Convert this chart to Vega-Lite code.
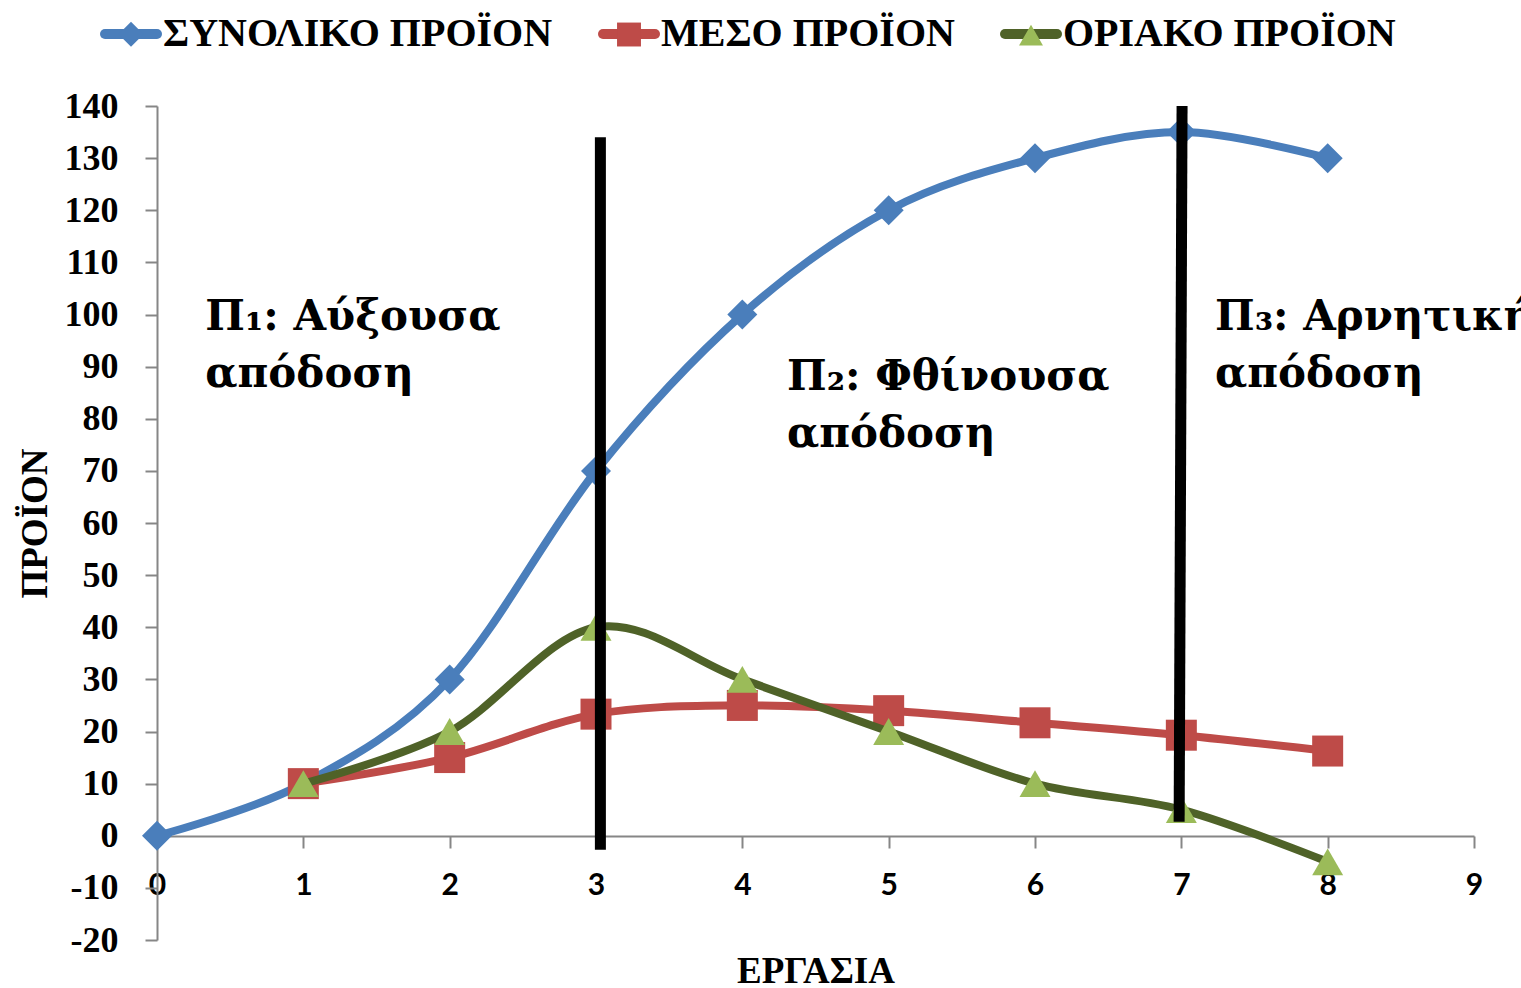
{
  "$schema": "https://vega.github.io/schema/vega-lite/v6.json",
  "width": 1317,
  "height": 834,
  "autosize": {"type": "none"},
  "padding": {"left": 157, "top": 106, "right": 47, "bottom": 48},
  "background": "white",
  "config": {"view": {"stroke": null}},
  "datasets": {
    "prod": [
      {"x": 0, "y": 0, "s": "ΣΥΝΟΛΙΚΟ ΠΡΟΪΟΝ"},
      {"x": 1, "y": 10, "s": "ΣΥΝΟΛΙΚΟ ΠΡΟΪΟΝ"},
      {"x": 2, "y": 30, "s": "ΣΥΝΟΛΙΚΟ ΠΡΟΪΟΝ"},
      {"x": 3, "y": 70, "s": "ΣΥΝΟΛΙΚΟ ΠΡΟΪΟΝ"},
      {"x": 4, "y": 100, "s": "ΣΥΝΟΛΙΚΟ ΠΡΟΪΟΝ"},
      {"x": 5, "y": 120, "s": "ΣΥΝΟΛΙΚΟ ΠΡΟΪΟΝ"},
      {"x": 6, "y": 130, "s": "ΣΥΝΟΛΙΚΟ ΠΡΟΪΟΝ"},
      {"x": 7, "y": 135, "s": "ΣΥΝΟΛΙΚΟ ΠΡΟΪΟΝ"},
      {"x": 8, "y": 130, "s": "ΣΥΝΟΛΙΚΟ ΠΡΟΪΟΝ"},
      {"x": 1, "y": 10, "s": "ΜΕΣΟ ΠΡΟΪΟΝ"},
      {"x": 2, "y": 15, "s": "ΜΕΣΟ ΠΡΟΪΟΝ"},
      {"x": 3, "y": 23.33, "s": "ΜΕΣΟ ΠΡΟΪΟΝ"},
      {"x": 4, "y": 25, "s": "ΜΕΣΟ ΠΡΟΪΟΝ"},
      {"x": 5, "y": 24, "s": "ΜΕΣΟ ΠΡΟΪΟΝ"},
      {"x": 6, "y": 21.67, "s": "ΜΕΣΟ ΠΡΟΪΟΝ"},
      {"x": 7, "y": 19.29, "s": "ΜΕΣΟ ΠΡΟΪΟΝ"},
      {"x": 8, "y": 16.25, "s": "ΜΕΣΟ ΠΡΟΪΟΝ"},
      {"x": 1, "y": 10, "s": "ΟΡΙΑΚΟ ΠΡΟΪΟΝ"},
      {"x": 2, "y": 20, "s": "ΟΡΙΑΚΟ ΠΡΟΪΟΝ"},
      {"x": 3, "y": 40, "s": "ΟΡΙΑΚΟ ΠΡΟΪΟΝ"},
      {"x": 4, "y": 30, "s": "ΟΡΙΑΚΟ ΠΡΟΪΟΝ"},
      {"x": 5, "y": 20, "s": "ΟΡΙΑΚΟ ΠΡΟΪΟΝ"},
      {"x": 6, "y": 10, "s": "ΟΡΙΑΚΟ ΠΡΟΪΟΝ"},
      {"x": 7, "y": 5, "s": "ΟΡΙΑΚΟ ΠΡΟΪΟΝ"},
      {"x": 8, "y": -5, "s": "ΟΡΙΑΚΟ ΠΡΟΪΟΝ"}
    ],
    "rules": [
      {"x": 3.03, "x2": 3.03, "y": 134, "y2": -2.7},
      {"x": 7.005, "x2": 6.985, "y": 140, "y2": 2.7}
    ],
    "notes": [
      {"x": 0.33, "y": 97, "t": "Π₁: Αύξουσα\nαπόδοση"},
      {"x": 4.305, "y": 85.5, "t": "Π₂: Φθίνουσα\nαπόδοση"},
      {"x": 7.23, "y": 97, "t": "Π₃: Αρνητική\nαπόδοση"}
    ]
  },
  "data": {"name": "prod"},
  "encoding": {
    "x": {
      "field": "x", "type": "quantitative",
      "scale": {"domain": [0, 9], "nice": false, "zero": false},
      "axis": {
        "title": "ΕΡΓΑΣΙΑ", "values": [0, 1, 2, 3, 4, 5, 6, 7, 8, 9], "format": "d",
        "offset": -104, "grid": false,
        "domainColor": "#868686", "domainWidth": 2, "tickColor": "#868686", "tickWidth": 2, "tickSize": 12,
        "labelFont": "Lato", "labelFontSize": 30, "labelFontWeight": "bold", "labelColor": "black", "labelPadding": 22,
        "labelOverlap": false, "labelFlush": false,
        "titleFont": "Liberation Serif", "titleFontSize": 37, "titleFontWeight": "bold", "titleColor": "black",
        "titleBaseline": "alphabetic", "titleY": 146
      }
    },
    "y": {
      "field": "y", "type": "quantitative",
      "scale": {"domain": [-20, 140], "nice": false, "zero": false},
      "axis": {
        "title": "ΠΡΟΪΟΝ", "values": [-20, -10, 0, 10, 20, 30, 40, 50, 60, 70, 80, 90, 100, 110, 120, 130, 140],
        "grid": false,
        "labelExpr": "replace(datum.label, '−', '-')",
        "domainColor": "#868686", "domainWidth": 2, "tickColor": "#868686", "tickWidth": 2, "tickSize": 12,
        "labelFont": "Liberation Serif", "labelFontSize": 36, "labelFontWeight": "bold", "labelColor": "black", "labelPadding": 27,
        "labelOverlap": false, "labelFlush": false,
        "titleFont": "Liberation Serif", "titleFontSize": 37, "titleFontWeight": "bold", "titleColor": "black",
        "titleBaseline": "alphabetic", "titleAngle": -90, "titleX": -111
      }
    }
  },
  "layer": [
    {
      "transform": [{"filter": "datum.s === 'ΣΥΝΟΛΙΚΟ ΠΡΟΪΟΝ'"}],
      "mark": {"type": "line", "interpolate": "cardinal", "strokeWidth": 8},
      "encoding": {
        "stroke": {
          "field": "s", "type": "nominal",
          "scale": {"domain": ["ΣΥΝΟΛΙΚΟ ΠΡΟΪΟΝ", "ΜΕΣΟ ΠΡΟΪΟΝ", "ΟΡΙΑΚΟ ΠΡΟΪΟΝ"], "range": ["#4A7EBB", "#BE4B48", "#4F6228"]},
          "legend": {
            "orient": "none", "legendX": -57, "legendY": -103, "direction": "horizontal", "columns": 3,
            "title": null, "padding": 0, "symbolType": "stroke", "symbolSize": 2704, "symbolStrokeWidth": 10,
            "labelFont": "Liberation Serif", "labelFontSize": 40, "labelFontWeight": "bold", "labelColor": "black",
            "labelOffset": 1, "labelLimit": 0, "columnPadding": 30, "zindex": 1,
            "encode": {"symbols": {"update": {"strokeCap": {"value": "round"}}}}
          }
        }
      }
    },
    {
      "transform": [{"filter": "datum.s === 'ΣΥΝΟΛΙΚΟ ΠΡΟΪΟΝ'"}],
      "mark": {"type": "point", "filled": true, "shape": "diamond", "size": 900, "color": "#4A7EBB", "opacity": 1}
    },
    {
      "transform": [{"filter": "datum.s === 'ΜΕΣΟ ΠΡΟΪΟΝ'"}],
      "mark": {"type": "line", "interpolate": "cardinal", "strokeWidth": 8},
      "encoding": {
        "stroke": {
          "field": "s", "type": "nominal",
          "scale": {"domain": ["ΣΥΝΟΛΙΚΟ ΠΡΟΪΟΝ", "ΜΕΣΟ ΠΡΟΪΟΝ", "ΟΡΙΑΚΟ ΠΡΟΪΟΝ"], "range": ["#4A7EBB", "#BE4B48", "#4F6228"]},
          "legend": {
            "orient": "none", "legendX": -57, "legendY": -103, "direction": "horizontal", "columns": 3,
            "title": null, "padding": 0, "symbolType": "stroke", "symbolSize": 2704, "symbolStrokeWidth": 10,
            "labelFont": "Liberation Serif", "labelFontSize": 40, "labelFontWeight": "bold", "labelColor": "black",
            "labelOffset": 1, "labelLimit": 0, "columnPadding": 30, "zindex": 1,
            "encode": {"symbols": {"update": {"strokeCap": {"value": "round"}}}}
          }
        }
      }
    },
    {
      "transform": [{"filter": "datum.s === 'ΜΕΣΟ ΠΡΟΪΟΝ'"}],
      "mark": {"type": "point", "filled": true, "shape": "square", "size": 961, "color": "#BE4B48", "opacity": 1}
    },
    {
      "transform": [{"filter": "datum.s === 'ΟΡΙΑΚΟ ΠΡΟΪΟΝ'"}],
      "mark": {"type": "line", "interpolate": "cardinal", "strokeWidth": 8},
      "encoding": {
        "stroke": {
          "field": "s", "type": "nominal",
          "scale": {"domain": ["ΣΥΝΟΛΙΚΟ ΠΡΟΪΟΝ", "ΜΕΣΟ ΠΡΟΪΟΝ", "ΟΡΙΑΚΟ ΠΡΟΪΟΝ"], "range": ["#4A7EBB", "#BE4B48", "#4F6228"]},
          "legend": {
            "orient": "none", "legendX": -57, "legendY": -103, "direction": "horizontal", "columns": 3,
            "title": null, "padding": 0, "symbolType": "stroke", "symbolSize": 2704, "symbolStrokeWidth": 10,
            "labelFont": "Liberation Serif", "labelFontSize": 40, "labelFontWeight": "bold", "labelColor": "black",
            "labelOffset": 1, "labelLimit": 0, "columnPadding": 30, "zindex": 1,
            "encode": {"symbols": {"update": {"strokeCap": {"value": "round"}}}}
          }
        }
      }
    },
    {
      "transform": [{"filter": "datum.s === 'ΟΡΙΑΚΟ ΠΡΟΪΟΝ'"}],
      "mark": {"type": "point", "filled": true, "shape": "triangle-up", "size": 961, "color": "#9BBB59", "opacity": 1}
    },
    {
      "mark": {"type": "point", "filled": true, "opacity": 0},
      "encoding": {
        "color": {
          "field": "s", "type": "nominal", "sort": null,
          "scale": {"range": ["#4A7EBB", "#BE4B48", "#9BBB59"]},
          "legend": {
            "orient": "none", "legendX": -57, "legendY": -103, "direction": "horizontal", "columns": 3,
            "title": null, "padding": 0, "symbolSize": 2704, "symbolStrokeWidth": 10,
            "labelFont": "Liberation Serif", "labelFontSize": 40, "labelFontWeight": "bold", "labelColor": "black",
            "labelOpacity": 0, "labelOffset": 1, "labelLimit": 0, "columnPadding": 30, "zindex": 2,
            "encode": {"symbols": {"update": {
              "shape": {"signal": "datum.value === 'ΣΥΝΟΛΙΚΟ ΠΡΟΪΟΝ' ? 'M-1,0M1,0M0,-0.48L0.48,0L0,0.48L-0.48,0Z' : datum.value === 'ΜΕΣΟ ΠΡΟΪΟΝ' ? 'M-1,0M1,0M-0.46,-0.46H0.46V0.46H-0.46Z' : 'M-1,0M1,0M0,-0.42L0.46,0.38L-0.46,0.38Z'"},
              "stroke": {"value": "transparent"},
              "opacity": {"value": 1}
            }}}
          }
        }
      }
    },
    {
      "data": {"name": "rules"},
      "mark": {"type": "rule", "color": "black", "strokeWidth": 11},
      "encoding": {
        "x2": {"field": "x2"},
        "y2": {"field": "y2"}
      }
    },
    {
      "data": {"name": "notes"},
      "mark": {"type": "text", "align": "left", "baseline": "alphabetic", "font": "DejaVu Serif", "fontSize": 42, "fontWeight": "bold", "lineBreak": "\n", "lineHeight": 57, "color": "black"},
      "encoding": {
        "text": {"field": "t"}
      }
    }
  ]
}
